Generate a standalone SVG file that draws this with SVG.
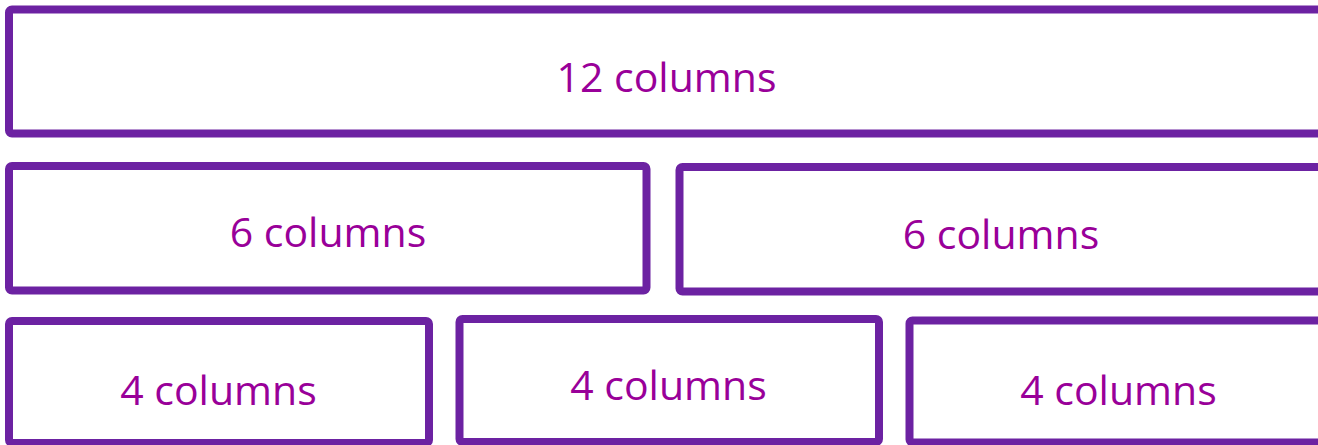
<svg xmlns="http://www.w3.org/2000/svg" width="1318" height="445" viewBox="0 0 1318 445">
<style>
.box{fill:#ffffff;stroke:#6C22A2;stroke-width:8;}
.lbl{font-family:"Open Sans","Noto Sans",sans-serif;font-size:41px;fill:#990099;text-anchor:middle;}
</style>
<rect x="0" y="0" width="1318" height="445" fill="#ffffff"/>
<g id="row1-12">
<rect class="box" x="9" y="9.5" width="1330" height="124" rx="3"/>
<text class="lbl" x="666.5" y="92">12 columns</text>
</g>
<g id="row2-6a">
<rect class="box" x="9" y="166" width="637.5" height="124.5" rx="3"/>
<text class="lbl" x="328" y="247">6 columns</text>
</g>
<g id="row2-6b">
<rect class="box" x="679.5" y="167" width="660" height="124.5" rx="3"/>
<text class="lbl" x="1001" y="248.5">6 columns</text>
</g>
<g id="row3-4a">
<rect class="box" x="9" y="321" width="420" height="122" rx="3"/>
<text class="lbl" x="218.5" y="404.5">4 columns</text>
</g>
<g id="row3-4b">
<rect class="box" x="459.5" y="319" width="419.5" height="123" rx="3"/>
<text class="lbl" x="668.5" y="400">4 columns</text>
</g>
<g id="row3-4c">
<rect class="box" x="909.5" y="320.5" width="430" height="122" rx="3"/>
<text class="lbl" x="1118.5" y="404.5">4 columns</text>
</g>
<g id="connectors"></g>
</svg>
